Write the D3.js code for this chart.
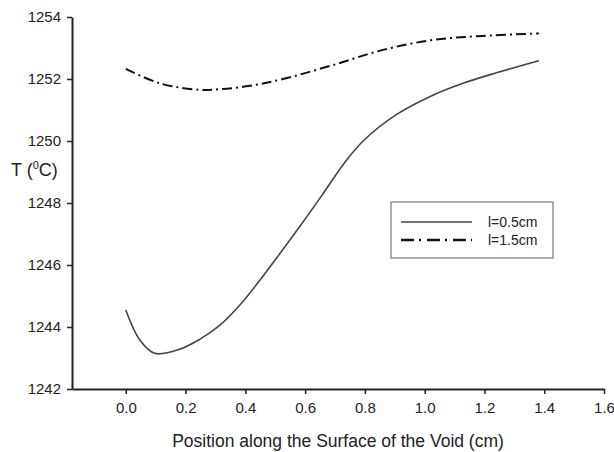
<!DOCTYPE html>
<html>
<head>
<meta charset="utf-8">
<script src="https://cdn.jsdelivr.net/npm/d3@7/dist/d3.min.js"></script>
<style>
  html, body { margin: 0; padding: 0; background: #fff; }
  svg { display: block; font-family: "Liberation Sans", Arial, sans-serif; }
</style>
</head>
<body>
<svg id="chart" width="614" height="452"></svg>
<script>
// Surface temperature along the void, two void sizes
const posSmall = [0, 0.047, 0.097, 0.18, 0.247, 0.314, 0.381, 0.448, 0.515, 0.582, 0.649, 0.732, 0.794, 0.905, 1.017, 1.128, 1.24, 1.382];
const tempSmall = [1244.55, 1243.58, 1243.15, 1243.28, 1243.6, 1244.05, 1244.7, 1245.5, 1246.36, 1247.24, 1248.15, 1249.3, 1250.0, 1250.85, 1251.43, 1251.86, 1252.2, 1252.59];

const posLarge = [0, 0.114, 0.247, 0.314, 0.415, 0.526, 0.693, 0.861, 1.028, 1.195, 1.382];
const tempLarge = [1252.33, 1251.86, 1251.65, 1251.67, 1251.78, 1252.0, 1252.45, 1252.94, 1253.26, 1253.39, 1253.47];

const xTicks = [0.0, 0.2, 0.4, 0.6, 0.8, 1.0, 1.2, 1.4, 1.6];
const yTicks = [1242, 1244, 1246, 1248, 1250, 1252, 1254];

const seriesLabels = ["l=0.5cm", "l=1.5cm"];

const svg = d3.select("#chart");
const plot = { left: 72, right: 604, top: 17, bottom: 389 };

const x = d3.scaleLinear().domain([-0.18, 1.6]).range([plot.left, plot.right]);
const y = d3.scaleLinear().domain([1242, 1254]).range([plot.bottom, plot.top]);

// Axes
const xAxis = svg.append("g")
  .attr("transform", `translate(0,${plot.bottom})`)
  .call(d3.axisBottom(x).tickValues(xTicks).tickFormat(d3.format(".1f")).tickSize(5).tickSizeOuter(0).tickPadding(8));
const yAxis = svg.append("g")
  .attr("transform", `translate(${plot.left},0)`)
  .call(d3.axisLeft(y).tickValues(yTicks).tickFormat(d3.format("d")).tickSize(5).tickSizeOuter(0).tickPadding(6));

[xAxis, yAxis].forEach(g => {
  g.select(".domain").attr("stroke", "#222").attr("stroke-width", 2);
  g.selectAll(".tick line").attr("stroke", "#222").attr("stroke-width", 1.5);
  g.selectAll(".tick text").attr("fill", "#222").style("font-size", "15px");
});

// Axis titles
svg.append("text")
  .attr("x", 338).attr("y", 447)
  .attr("text-anchor", "middle")
  .attr("fill", "#222")
  .style("font-size", "17.5px")
  .text("Position along the Surface of the Void (cm)");

const yTitle = svg.append("text")
  .attr("x", 11).attr("y", 176)
  .attr("fill", "#222")
  .style("font-size", "18px");
yTitle.append("tspan").text("T (");
yTitle.append("tspan").attr("dy", -7).style("font-size", "11px").text("0");
yTitle.append("tspan").attr("dy", 7).text("C)");

// Curves
const line = d3.line()
  .x(d => x(d[0]))
  .y(d => y(d[1]))
  .curve(d3.curveCatmullRom.alpha(0.5));

const dataSmall = d3.zip(posSmall, tempSmall);
const dataLarge = d3.zip(posLarge, tempLarge);

svg.append("path")
  .datum(dataSmall)
  .attr("d", line)
  .attr("fill", "none")
  .attr("stroke", "#444")
  .attr("stroke-width", 1.6);

svg.append("path")
  .datum(dataLarge)
  .attr("d", line)
  .attr("fill", "none")
  .attr("stroke", "#111")
  .attr("stroke-width", 2)
  .attr("stroke-dasharray", "10,4,2,4");

// Legend
const legend = svg.append("g").attr("transform", "translate(391,202)");
legend.append("rect")
  .attr("width", 162).attr("height", 56)
  .attr("fill", "#fff")
  .attr("stroke", "#777")
  .attr("stroke-width", 1.2);

const legendStyles = [
  { stroke: "#444", width: 1.6, dash: null },
  { stroke: "#111", width: 2.4, dash: "13,5,2,6" }
];
seriesLabels.forEach((lab, i) => {
  const yy = 20 + i * 18;
  legend.append("line")
    .attr("x1", 10).attr("x2", 81)
    .attr("y1", yy).attr("y2", yy)
    .attr("stroke", legendStyles[i].stroke)
    .attr("stroke-width", legendStyles[i].width)
    .attr("stroke-dasharray", legendStyles[i].dash);
  legend.append("text")
    .attr("x", 97).attr("y", yy + 5)
    .attr("fill", "#222")
    .style("font-size", "14px")
    .text(lab);
});
</script>
</body>
</html>
